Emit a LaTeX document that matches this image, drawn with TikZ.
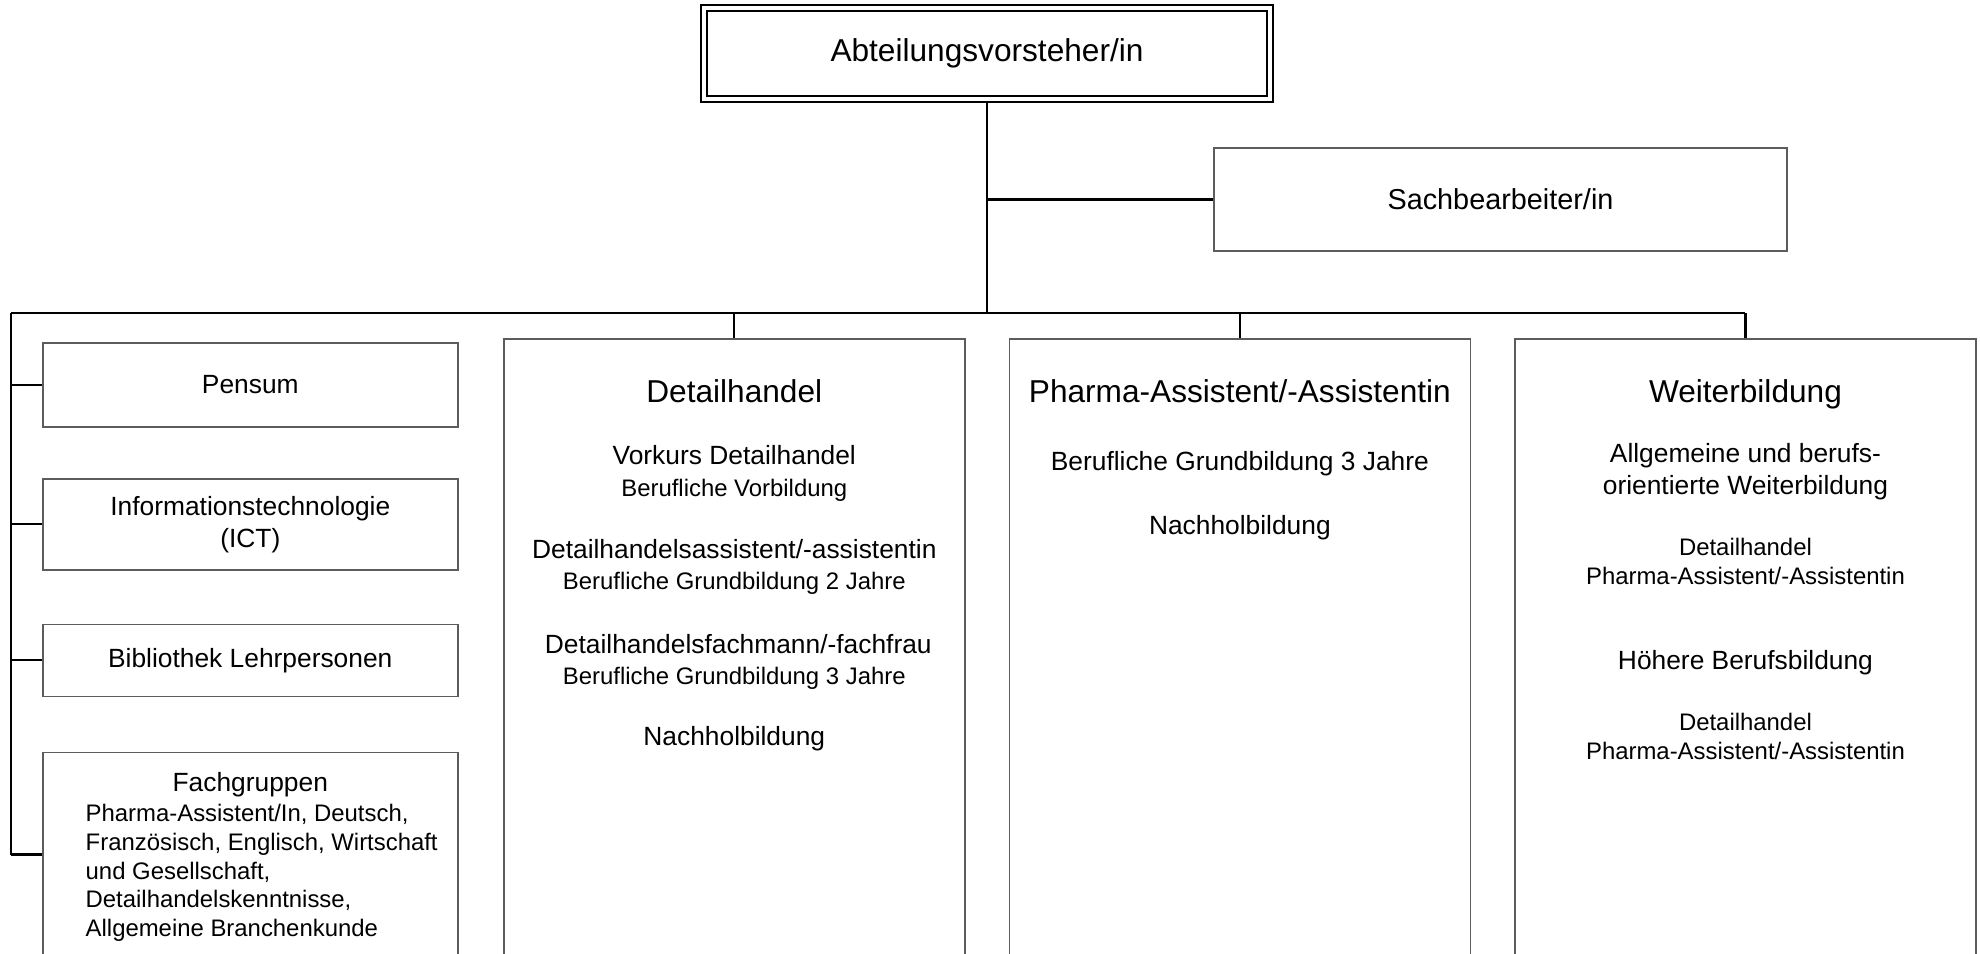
\documentclass[tikz,border=0pt]{standalone}
\usepackage{fontspec}
\setmainfont{Liberation Sans}
\usepackage{tikz}
\usetikzlibrary{positioning,backgrounds}
\definecolor{frame}{HTML}{5C5C5C}
\newcommand{\fshead}{\fontsize{9}{11}\selectfont}
\newcommand{\fsitem}{\fontsize{7.5}{9.1}\selectfont}
\newcommand{\fssmall}{\fontsize{6.8}{8.2}\selectfont}
\tikzset{
  unit/.style ={draw=frame,line width=0.45pt,inner sep=2pt,align=center,font=\fsitem},
  lead/.style ={draw=black,line width=0.45pt,double,double distance=1.2pt,inner sep=2pt,
                align=center,font=\fshead},
  col/.style  ={unit,anchor=north west,minimum width=4.61cm,minimum height=6.3cm},
  side/.style ={unit,minimum width=4.15cm},
  tie/.style  ={line width=0.6pt,draw=black},
  ttl/.style  ={anchor=base,inner sep=0pt,font=\fshead},
  itm/.style  ={anchor=base,inner sep=0pt,font=\fsitem},
  fine/.style ={anchor=base,inner sep=0pt,font=\fssmall}
}

\begin{document}
\begin{tikzpicture}
  \useasboundingbox (0,0) rectangle (19.8,-9.54);
  \clip (0,0) rectangle (19.8,-9.54);
  % head and staff
  \node[lead,minimum width=5.66cm,minimum height=0.91cm] (chef) at (9.87,-0.535)
    {Abteilungsvorsteher/in};
  \node[unit,font=\fontsize{8.2}{9.8}\selectfont,minimum width=5.73cm,minimum height=1.03cm]
    (sach) at (15.005,-1.995) {Sachbearbeiter/in};
  % services on the left
  \node[side,anchor=north west,minimum height=0.84cm] (pensum) at (0.42,-3.42) {Pensum};
  \node[side,below=0.505cm of pensum,minimum height=0.91cm] (ict)
    {Informationstechnologie\\(ICT)};
  \node[side,below=0.53cm of ict,minimum height=0.72cm] (bib) {Bibliothek Lehrpersonen};
  \node[side,below=0.545cm of bib,minimum height=2.04cm] (fach) {};
  \node[itm] (fach-t) at ([yshift=-0.40cm]fach.north) {Fachgruppen};
  \node[fine,anchor=north west,align=left] (fach-l) at (0.85,-8.035)
    {Pharma-Assistent/In, Deutsch,\\Französisch, Englisch, Wirtschaft\\und Gesellschaft,\\
     Detailhandelskenntnisse,\\Allgemeine Branchenkunde};
  % three columns
  \node[col] (det) at (5.03,-3.385) {};
  \node[col,right=0.43cm of det] (pha) {};
  \node[col,right=0.43cm of pha] (wb) {};
  \node[ttl] (det-t)  at ([yshift=-0.64cm]det.north)  {Detailhandel};
  \node[itm] (det-a)  at ([yshift=-1.26cm]det.north)  {Vorkurs Detailhandel};
  \node[fine] (det-b) at ([yshift=-1.585cm]det.north) {Berufliche Vorbildung};
  \node[itm] (det-c)  at ([yshift=-2.2cm]det.north)   {Detailhandelsassistent/-assistentin};
  \node[fine] (det-d) at ([yshift=-2.515cm]det.north) {Berufliche Grundbildung 2 Jahre};
  \node[itm] (det-e)  at ([xshift=0.04cm,yshift=-3.155cm]det.north) {Detailhandelsfachmann/-fachfrau};
  \node[fine] (det-f) at ([yshift=-3.465cm]det.north) {Berufliche Grundbildung 3 Jahre};
  \node[itm] (det-g)  at ([yshift=-4.075cm]det.north) {Nachholbildung};
  \node[ttl] (pha-t)  at ([yshift=-0.64cm]pha.north)  {Pharma-Assistent/-Assistentin};
  \node[itm] (pha-a)  at ([yshift=-1.325cm]pha.north) {Berufliche Grundbildung 3 Jahre};
  \node[itm] (pha-b)  at ([yshift=-1.965cm]pha.north) {Nachholbildung};
  \node[ttl] (wb-t)   at ([yshift=-0.64cm]wb.north)   {Weiterbildung};
  \node[itm] (wb-a)   at ([yshift=-1.245cm]wb.north)  {Allgemeine und berufs-};
  \node[itm] (wb-b)   at ([yshift=-1.565cm]wb.north)  {orientierte Weiterbildung};
  \node[fine] (wb-c)  at ([yshift=-2.175cm]wb.north)  {Detailhandel};
  \node[fine] (wb-d)  at ([yshift=-2.465cm]wb.north)  {Pharma-Assistent/-Assistentin};
  \node[itm] (wb-e)   at ([yshift=-3.315cm]wb.north)  {Höhere Berufsbildung};
  \node[fine] (wb-f)  at ([yshift=-3.925cm]wb.north)  {Detailhandel};
  \node[fine] (wb-g)  at ([yshift=-4.215cm]wb.north)  {Pharma-Assistent/-Assistentin};
  % connectors
  \coordinate (busl) at (0.11,-3.13);
  \begin{scope}[on background layer]
    \draw[tie] (chef.south) -- (chef.south |- busl);
    \draw[tie] (chef.south |- sach.west) -- (sach.west);
    \draw[tie] (busl) -- (busl -| wb.north);
    \draw[tie] (busl) -- (busl |- fach.west);
    \foreach \n in {det,pha,wb}
      \draw[tie] (busl -| \n.north) -- (\n.north);
    \foreach \n in {pensum,ict,bib,fach}
      \draw[tie] (busl |- \n.west) -- (\n.west);
  \end{scope}
\end{tikzpicture}
\end{document}
